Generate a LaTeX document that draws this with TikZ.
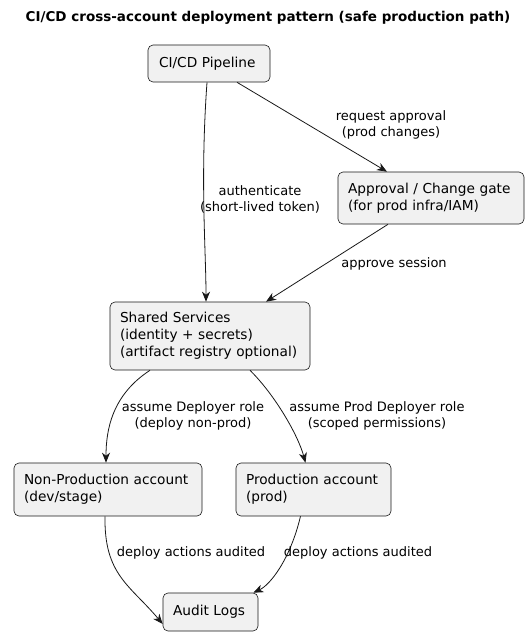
\documentclass[tikz,border=0pt]{standalone}
\usepackage{fontspec}
\setmainfont{DejaVu Sans}
\usetikzlibrary{arrows.meta}
\definecolor{boxfill}{HTML}{F1F1F1}
\definecolor{ink}{HTML}{181818}
\begin{document}
\begin{tikzpicture}[x=1pt,y=-1pt,
  box/.style={draw=ink,fill=boxfill,rounded corners=5pt,line width=0.6pt,
    align=left,font=\fontsize{13.7}{17}\selectfont,inner xsep=10pt,inner ysep=0pt,
    text=black},
  conn/.style={draw=ink,line width=0.8pt,-{Stealth[length=10pt,width=8pt,inset=3pt]}},
  lbl/.style={font=\fontsize{13}{16}\selectfont,align=center,text=black}]
\useasboundingbox (0,0) rectangle (529,634);
\node[font=\bfseries\fontsize{13.5}{16}\selectfont] (title) at (268,18) {CI/CD cross-account deployment pattern (safe production path)};
\node[box,text width=100pt,inner xsep=11pt,minimum height=37pt] (pipe) at (209,63.5) {\mbox{CI/CD Pipeline}};
\node[box,text width=166pt,minimum height=52pt] (appr) at (431,198) {\mbox{Approval / Change gate}\\\mbox{(for prod infra/IAM)}};
\node[box,text width=180pt,minimum height=68pt] (shared) at (210,336) {\mbox{Shared Services}\\\mbox{(identity + secrets)}\\\mbox{(artifact registry optional)}};
\node[box,text width=168pt,minimum height=53pt] (nonprod) at (108,489.5) {\mbox{Non-Production account}\\\mbox{(dev/stage)}};
\node[box,text width=135pt,minimum height=53pt] (prod) at (313.5,489.5) {\mbox{Production account}\\\mbox{(prod)}};
\node[box,text width=75pt,minimum height=38pt] (audit) at (210.5,612) {\mbox{Audit Logs}};

\draw[conn] ([xshift=-2pt]pipe.south) .. controls (200,180) and (206,250) .. ([xshift=-4pt]shared.north);
\node[lbl] (l1) at (260,199) {authenticate\\(short-lived token)};

\draw[conn] ([xshift=28pt]pipe.south) -- ([xshift=-44pt]appr.north);
\node[lbl] (l2) at (391,125) {request approval\\(prod changes)};

\draw[conn] ([xshift=-43pt]appr.south) -- ([xshift=56pt]shared.north);
\node[lbl] (l3) at (394,264) {approve session};

\draw[conn] ([xshift=-60pt]shared.south) .. controls (112,395) and (106,430) .. ([xshift=-2pt]nonprod.north);
\node[lbl] (l4) at (193,416) {assume Deployer role\\(deploy non-prod)};

\draw[conn] ([xshift=40pt]shared.south) .. controls (275,395) and (298,435) .. ([xshift=-8pt]prod.north);
\node[lbl] (l5) at (377,416) {assume Prod Deployer role\\(scoped permissions)};

\draw[conn] ([xshift=-3pt]nonprod.south) .. controls (104,575) and (130,585) .. ([yshift=-12pt]audit.west);
\node[lbl] (l6) at (191,553) {deploy actions audited};

\draw[conn] ([xshift=-13pt]prod.south) .. controls (290,560) and (270,585) .. ([xshift=-5pt]audit.north east);
\node[lbl] (l7) at (358,553) {deploy actions audited};
\end{tikzpicture}
\end{document}
